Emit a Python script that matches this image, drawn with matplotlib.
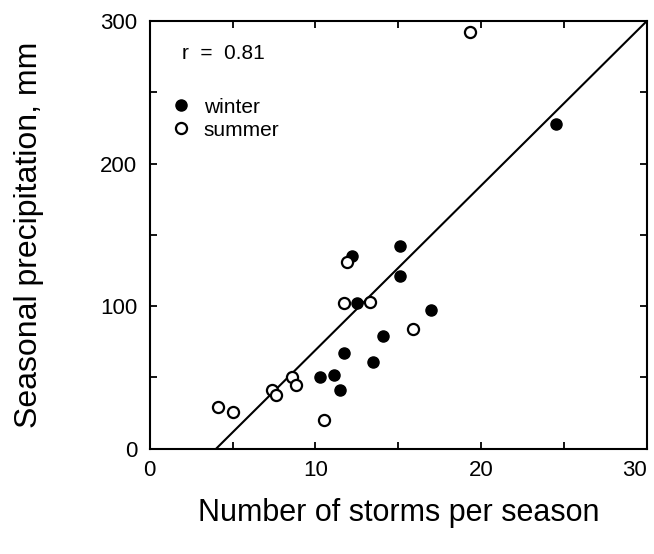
import matplotlib.pyplot as plt
from matplotlib.lines import Line2D
from matplotlib.ticker import MultipleLocator

plt.rcParams['font.family'] = ['Liberation Sans', 'DejaVu Sans']

# 冬のデータ (嵐の回数, 降水量 mm)
winter_storms = [24.5, 15.1, 15.1, 12.2, 12.5, 17.0, 14.1, 11.7, 13.5, 10.3, 11.1, 11.5]
winter_precip = [228, 142, 121, 135, 102, 97, 79, 67, 61, 50, 52, 41]

# 夏のデータ
summer_storms = [19.3, 11.9, 11.7, 13.3, 15.9, 8.6, 8.8, 7.4, 7.6, 4.1, 5.0, 10.5]
summer_precip = [292, 131, 102, 103, 84, 50, 45, 41, 38, 29, 26, 20]

# 回帰直線
fit_slope = 11.54
fit_intercept = -46.2
fit_x = [4.0, 30.0]
r_value = 0.81

x_ticks = [0, 10, 20, 30]
y_ticks = [0, 100, 200, 300]

fig = plt.figure(figsize=(6.54, 5.54), dpi=100)
ax = fig.add_axes([0.229, 0.190, 0.760, 0.772])

ax.plot(fit_x, [fit_slope * x + fit_intercept for x in fit_x], color="black", linewidth=1.5)
ax.plot(winter_storms, winter_precip, "o", color="black", markersize=8, linestyle="none")
ax.plot(summer_storms, summer_precip, "o", markerfacecolor="white", markeredgecolor="black",
        markeredgewidth=1.6, markersize=8, linestyle="none")

ax.set_xlim(0, 30)
ax.set_ylim(0, 300)
ax.set_xticks(x_ticks)
ax.set_yticks(y_ticks)
ax.xaxis.set_minor_locator(MultipleLocator(5))
ax.yaxis.set_minor_locator(MultipleLocator(50))
ax.tick_params(which="both", direction="in", top=True, right=True, length=5, width=1.3)
ax.tick_params(axis="x", labelsize=16, pad=8)
ax.tick_params(axis="y", labelsize=16, pad=9)
for s in ax.spines.values():
    s.set_linewidth(1.5)

# 右端の「30」がはみ出さないように右寄せ
ax.xaxis.get_major_ticks()[-1].label1.set_horizontalalignment("right")

ax.set_xlabel("Number of storms per season", fontsize=22, labelpad=12)
ax.set_ylabel("Seasonal precipitation, mm", fontsize=23, labelpad=40)

ax.text(0.064, 0.925, f"r  =  {r_value}", transform=ax.transAxes, fontsize=15, va="center")

handles = [
    Line2D([], [], marker="o", color="black", linestyle="none", markersize=8),
    Line2D([], [], marker="o", markerfacecolor="white", markeredgecolor="black",
           markeredgewidth=1.6, linestyle="none", markersize=8),
]
ax.legend(handles, ["winter", "summer"], loc="upper left", bbox_to_anchor=(0.0, 0.865),
          frameon=False, fontsize=15, handletextpad=0.5, labelspacing=0.2, handlelength=1.2)

plt.savefig("out.png")
